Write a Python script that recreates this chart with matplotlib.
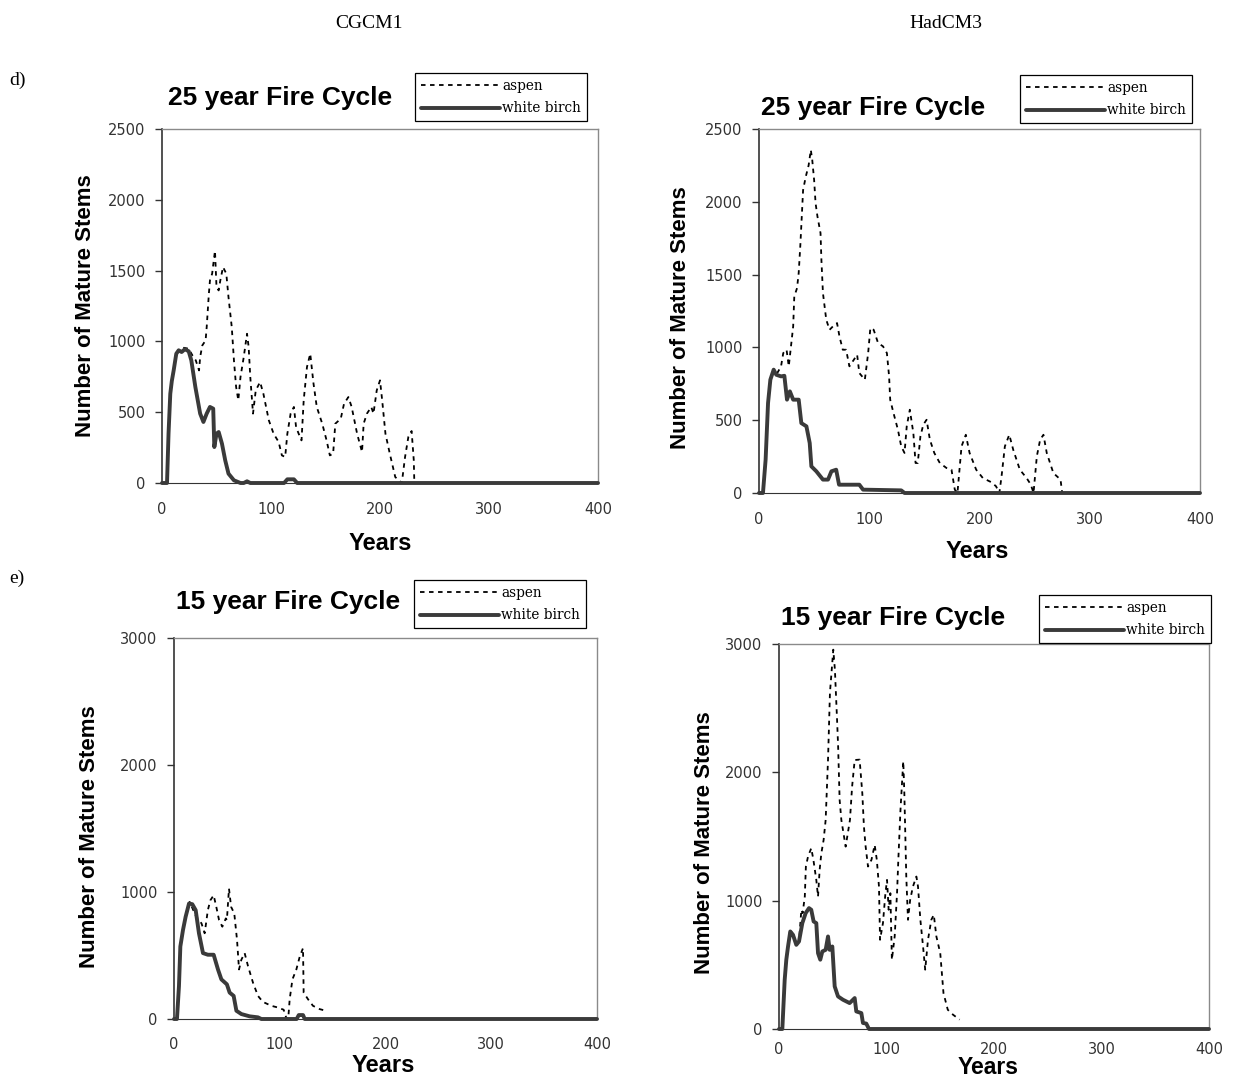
import matplotlib
matplotlib.use("Agg")
import matplotlib.pyplot as plt

W, H = 1234, 1080

# ---------------- data ----------------
# d) CGCM1, 25 year fire cycle
tl_birch_years = [0, 4.6, 6, 7.6, 9, 10.7, 13.1, 15.3, 18, 21, 24.5, 26.9, 30.6, 35, 38, 41, 44, 47, 48, 50,
                  52, 55, 58, 61, 66, 72, 75, 78, 81, 112, 115, 121, 124, 400]
tl_birch_vals = [0, 0, 350, 630, 720, 795, 913, 937, 925, 945, 930, 866, 678, 490, 431, 490, 537, 525, 254, 348,
                 360, 278, 160, 66, 19, 0, 0, 12, 0, 0, 26, 26, 0, 0]
tl_aspen_years = [0, 4.6, 6, 7.6, 10.7, 13.1, 15.3, 20, 24.5, 28, 31, 34, 35, 37, 40, 41, 43, 44, 46, 48.6,
                  50, 52, 53.5, 56, 59, 61, 64, 66, 68, 70, 72, 75, 78, 79.5, 81, 83.5, 86, 90, 93, 98,
                  102.4, 107, 110, 113, 115, 118, 121, 123, 125.4, 128, 130, 133, 136, 139, 142, 147, 151, 154,
                  157, 159, 164, 167, 171, 174, 179, 183.5, 185, 188, 192, 194, 197, 200, 202, 205, 209, 214,
                  220, 223, 226, 229, 231, 231.5]
tl_aspen_vals = [0, 0, 350, 630, 795, 913, 940, 955, 948, 900, 866, 795, 890, 972, 1007, 1101, 1337, 1431, 1478, 1640,
                 1384, 1360, 1431, 1525, 1478, 1313, 1101, 866, 678, 584, 748, 890, 1054, 960, 748, 490, 654, 713, 631, 443,
                 348, 290, 195, 184, 348, 490, 537, 395, 348, 301, 584, 819, 913, 702, 537, 419, 301, 195,
                 207, 419, 454, 560, 607, 537, 348, 219, 419, 490, 537, 490, 654, 725, 584, 348, 207, 42,
                 0, 184, 325, 367, 160, 0]

# d) HadCM3, 25 year fire cycle
tr_birch_years = [0, 3.6, 6, 8.2, 10.3, 13.3, 15.7, 20, 23, 25.4, 28, 31, 36, 38.4, 43, 46, 47.5, 52, 58, 62.6,
                  65.7, 70, 72.6, 91, 94.4, 129, 132, 400]
tr_birch_vals = [0, 0, 229, 618, 778, 847, 812, 801, 805, 641, 698, 641, 641, 480, 458, 343, 183, 149, 92, 92,
                 149, 160, 57, 57, 23, 18, 0, 0]
tr_aspen_years = [0, 3.6, 6, 8.2, 10.3, 13.3, 15.7, 20, 22, 25, 27, 29, 31, 32, 34.5, 36, 37.5, 40, 42.4, 45,
                  47, 48.3, 50, 51.3, 53, 55.8, 56.6, 58, 61, 64, 67, 70.8, 73, 76, 79, 82, 86, 89, 91, 96,
                  99, 101, 104, 108, 112.5, 116, 118, 119, 122, 126, 129, 132, 134, 136.8, 140, 142, 144, 146.4, 149, 152,
                  155, 159, 164, 170, 174.6, 177.6, 180, 183.7, 187.6, 191, 197, 203, 211, 215, 218, 220, 223, 227, 230.6, 236.6,
                  242.7, 246.6, 249, 252, 255, 258, 261, 267, 273.5, 275]
tr_aspen_vals = [0, 0, 229, 618, 778, 847, 812, 870, 961, 984, 870, 1007, 1144, 1350, 1407, 1511, 1703, 2081, 2172, 2250,
                 2356, 2287, 2150, 1991, 1900, 1785, 1602, 1373, 1190, 1121, 1144, 1167, 1075, 984, 984, 870, 915, 950, 824, 778,
                 961, 1133, 1121, 1030, 1007, 961, 801, 641, 549, 435, 320, 275, 458, 572, 412, 206, 206, 389, 469, 503,
                 366, 275, 206, 172, 160, 23, 0, 320, 400, 275, 160, 103, 73, 46, 0, 114, 320, 400, 297, 160,
                 103, 57, 0, 252, 366, 400, 275, 137, 92, 0]

# e) CGCM1, 15 year fire cycle
bl_birch_years = [0, 2.8, 4.7, 6, 8.5, 11, 14.2, 17.3, 20.5, 23.6, 27.4, 32, 37.5, 41.6, 44.8, 50, 52.6, 56.4, 59, 63.7,
                  71.5, 79.4, 82.6, 116, 118, 122, 123.6, 400]
bl_birch_vals = [0, 0, 260, 571, 701, 805, 909, 904, 857, 675, 519, 506, 506, 390, 312, 273, 208, 182, 65, 39,
                 21, 13, 0, 0, 31, 31, 0, 0]
bl_aspen_years = [0, 2.8, 4.7, 6, 8.5, 11, 14.8, 21, 26, 29, 32, 34.4, 37.5, 40, 42.6, 45.7, 49, 50, 52, 54,
                  57, 59.6, 61.5, 63.7, 66.8, 70, 74.7, 79.4, 84, 92, 98, 103.7, 106, 108, 109.4, 112, 115.7, 119, 122, 122.6,
                  126.7, 131.4, 137.7, 143.4]
bl_aspen_vals = [0, 0, 260, 571, 701, 805, 922, 805, 753, 675, 857, 935, 974, 883, 779, 727, 792, 779, 1026, 883,
                 831, 623, 390, 467, 519, 416, 286, 182, 135, 104, 91, 73, 13, 0, 156, 312, 390, 494, 558, 208,
                 156, 104, 78, 65]

# e) HadCM3, 15 year fire cycle
br_birch_years = [0, 3.1, 5.3, 6.8, 8.4, 10.5, 13, 16.1, 18.6, 21.7, 24.8, 27.9, 30, 32.2, 34.7, 36.3, 38.4, 40.3, 43.4, 45.6,
                  47.1, 49.6, 51.8, 54.9, 59.5, 65.7, 70.4, 71.9, 76.6, 78.1, 81.2, 83.7, 400]
br_birch_vals = [0, 0, 384, 540, 643, 760, 734, 656, 682, 825, 903, 942, 929, 838, 825, 591, 540, 604, 617, 721,
                 617, 643, 332, 254, 228, 202, 241, 137, 124, 47, 42, 0, 0]
br_aspen_years = [0, 3.1, 5.3, 6.8, 8.4, 10.5, 13, 16.1, 18.6, 20.8, 22, 24, 25, 27, 30, 32, 34.7, 36.3, 37.8, 39.4,
                  41.5, 43.4, 45.6, 47.4, 50.5, 52, 54, 55, 56.4, 58, 60, 62, 64, 66, 68, 70.4, 75, 77.5, 79, 80.6,
                  82.8, 86, 89, 91, 93, 94, 96.7, 99, 100.5, 102, 103.6, 105, 107.6, 109.8, 111, 113, 115.6, 116.6, 118.4, 120,
                  122, 124.6, 127.8, 129.3, 131.5, 134, 136, 138.6, 141.7, 144, 146.4, 150, 153, 157, 161.8, 168]
br_aspen_vals = [0, 0, 384, 540, 643, 760, 734, 656, 682, 929, 903, 1032, 1266, 1344, 1409, 1318, 1162, 1032, 1240, 1370,
                 1473, 1629, 2099, 2621, 2956, 2800, 2411, 2203, 1785, 1629, 1525, 1421, 1525, 1629, 1888, 2096, 2099, 1836, 1577, 1421,
                 1266, 1318, 1434, 1318, 1110, 695, 825, 1058, 1162, 929, 1058, 540, 721, 1058, 1318, 1707, 2086, 1836, 1188, 851,
                 1006, 1110, 1188, 1110, 851, 643, 462, 695, 851, 890, 721, 591, 280, 150, 112, 73]

column_titles = ["CGCM1", "HadCM3"]
row_labels = ["d)", "e)"]
panel_titles = ["25 year Fire Cycle", "25 year Fire Cycle", "15 year Fire Cycle", "15 year Fire Cycle"]
y_ticks_25 = [0, 500, 1000, 1500, 2000, 2500]
y_ticks_15 = [0, 1000, 2000, 3000]
x_ticks = [0, 100, 200, 300, 400]
series_names = ["aspen", "white birch"]

# ---------------- figure ----------------
fig = plt.figure(figsize=(W / 100, H / 100), dpi=100)
fig.patch.set_facecolor("white")


def px_rect(x0, y0, x1, y1):
    return [x0 / W, 1 - y1 / H, (x1 - x0) / W, (y1 - y0) / H]


def fx(x):
    return x / W


def fy(y):
    return 1 - y / H


panels = [
    dict(rect=px_rect(162, 129, 598, 483), aspen=(tl_aspen_years, tl_aspen_vals),
         birch=(tl_birch_years, tl_birch_vals), ymax=2500, yticks=y_ticks_25,
         title=panel_titles[0], title_xy=(280, 98), legend_xy=(415, 73),
         xlab=(380, 543), ylab=(86, 306), xpad=14, xfs=17),
    dict(rect=px_rect(759, 129, 1200, 493), aspen=(tr_aspen_years, tr_aspen_vals),
         birch=(tr_birch_years, tr_birch_vals), ymax=2500, yticks=y_ticks_25,
         title=panel_titles[1], title_xy=(873, 108), legend_xy=(1020, 75),
         xlab=(977, 551), ylab=(680, 318), xpad=14, xfs=17),
    dict(rect=px_rect(174, 638, 597, 1019), aspen=(bl_aspen_years, bl_aspen_vals),
         birch=(bl_birch_years, bl_birch_vals), ymax=3000, yticks=y_ticks_15,
         title=panel_titles[2], title_xy=(288, 602), legend_xy=(414, 580),
         xlab=(383, 1066), ylab=(90, 837), xpad=13, xfs=17),
    dict(rect=px_rect(779, 644, 1209, 1029), aspen=(br_aspen_years, br_aspen_vals),
         birch=(br_birch_years, br_birch_vals), ymax=3000, yticks=y_ticks_15,
         title=panel_titles[3], title_xy=(893, 618), legend_xy=(1039, 595),
         xlab=(988, 1068), ylab=(705, 843), xpad=9, xfs=16.5),
]

tick_color = "#333333"
for p in panels:
    ax = fig.add_axes(p["rect"])
    la, = ax.plot(p["aspen"][0], p["aspen"][1], color="black", lw=1.3,
                  linestyle=(0, (2.5, 2.5)), clip_on=False, zorder=3, label=series_names[0])
    lb, = ax.plot(p["birch"][0], p["birch"][1], color="#3a3a3a", lw=2.8,
                  solid_joinstyle="round", solid_capstyle="round", clip_on=False, zorder=4,
                  label=series_names[1])
    ax.set_xlim(0, 400)
    ax.set_ylim(0, p["ymax"])
    ax.set_xticks(x_ticks)
    ax.set_yticks(p["yticks"])
    ax.tick_params(axis="y", direction="out", length=5, width=1, color=tick_color,
                   labelsize=10.5, labelcolor=tick_color, pad=7)
    ax.tick_params(axis="x", length=0, labelsize=10.5, labelcolor=tick_color, pad=p["xpad"])
    for lab in ax.get_xticklabels() + ax.get_yticklabels():
        lab.set_family("DejaVu Sans")
    ax.spines["left"].set_color("#333333")
    ax.spines["left"].set_linewidth(1.2)
    ax.spines["bottom"].set_color("#333333")
    ax.spines["top"].set_color("#8a8a8a")
    ax.spines["right"].set_color("#8a8a8a")
    ax.spines["top"].set_linewidth(1.0)
    ax.spines["right"].set_linewidth(1.0)

    # axis labels placed at their pixel positions (converted to axes coords)
    x0, y0, w, h = p["rect"]
    xl_x, xl_y = p["xlab"]
    yl_x, yl_y = p["ylab"]
    ax.set_xlabel("Years", fontsize=p["xfs"], fontweight="bold", family="Liberation Sans")
    ax.xaxis.label.set_va("center")
    ax.xaxis.set_label_coords((fx(xl_x) - x0) / w, (fy(xl_y) - y0) / h)
    ax.set_ylabel("Number of Mature Stems", fontsize=16, fontweight="bold", family="Liberation Sans")
    ax.yaxis.label.set_va("center")
    ax.yaxis.label.set_ha("center")
    ax.yaxis.set_label_coords((fx(yl_x) - x0) / w, (fy(yl_y) - y0) / h)

    tx, ty = p["title_xy"]
    fig.text(fx(tx), fy(ty), p["title"], ha="center", va="center", fontsize=19,
             fontweight="bold", family="Liberation Sans")

    lx, ly = p["legend_xy"]
    leg = ax.legend(handles=[la, lb], loc="upper left", bbox_to_anchor=(fx(lx), fy(ly)),
                    bbox_transform=fig.transFigure, borderaxespad=0, frameon=True,
                    fancybox=False, framealpha=1, edgecolor="black",
                    prop=dict(family="DejaVu Serif", size=9.8),
                    handlelength=5.8, handletextpad=0.15, borderpad=0.45, labelspacing=0.6)
    leg.get_frame().set_linewidth(0.9)

for t, x in zip(column_titles, [369, 946]):
    fig.text(fx(x), fy(24), t, ha="center", va="center", fontsize=14, family="Liberation Serif")
for t, y in zip(row_labels, [80, 578]):
    fig.text(fx(17), fy(y), t, ha="center", va="center", fontsize=14, family="Liberation Serif")

fig.savefig("out.png", dpi=100, facecolor="white")
